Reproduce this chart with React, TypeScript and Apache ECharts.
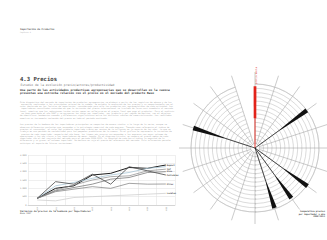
import { useEffect, useRef } from "react";
import * as echarts from "echarts";

// ---- Line chart data (price index per importer, base 1997) ----
const years = ["2004", "2005", "2006", "2007", "2008", "2009", "2010", "2011"];
const importerNames = ["Repsol", "Shell", "Ypf", "Esso", "Petrobras", "Otros", "Locales"];
const importerA = [400, 1000, 1150, 1800, 1900, 2250, 2200, 2400];
const importerB = [400, 1150, 1350, 1600, 1800, 1950, 2200, 2300];
const importerC = [400, 900, 1200, 1500, 1700, 1750, 2050, 2150];
const importerD = [400, 850, 1050, 1250, 1550, 1650, 1950, 2000];
const importerE = [400, 1400, 1250, 1850, 1250, 2300, 2050, 1800];
const importerF = [400, 800, 950, 1100, 1000, 1300, 1250, 1260];
const importerG = [300, 250, 450, 500, 550, 600, 650, 700];
const importerSeries = [importerA, importerB, importerC, importerD, importerE, importerF, importerG];

// ---- Polar chart data ----
const sectors = [
  "Mercado", "S2", "S3", "Repsol", "S5", "S6", "S7", "Shell", "Ypf", "Esso",
  "S11", "S12", "S13", "S14", "S15", "S16", "Petrobras", "S18", "S19", "S20",
];
const barSector = [0, 3, 7, 8, 9, 16];
const barInner = [7.0, 7.0, 8.2, 8.0, 8.2, 7.5];
const barOuter = [14.5, 15.0, 15.2, 14.5, 14.8, 15.2];

const para0 =
  "Una parte de las actividades productivas agropecuarias que se desarrollan en la cuenca presentan una estrecha relación con el precio en el mercado del producto Base";
const para1 =
  "Este diagnóstico del mercado de importación de productos agropecuarios se elaboró a partir de los registros de aduana y de las encuestas realizadas a los principales actores de la cadena. Se estudia la evolución de los precios y su comportamiento con el valor declarado en las facturas de importación, considerando para ello los productos más representativos de cada actividad. Los importadores consultados coinciden en que la variación del precio internacional se traslada de forma casi inmediata al mercado local, mientras que las reducciones tardan varios meses en reflejarse en el precio final que paga el productor. Para el análisis se tomó como base el año 1997 y se agruparon los datos por importador, por producto y por región de destino, con el objetivo de identificar tendencias comunes y diferencias significativas entre los distintos canales de comercialización. Los resultados muestran un incremento sostenido del precio en todo el período analizado.";
const para2 =
  "Los precios de la bombona de los importadores principales se comportan de manera similar a lo largo de la serie, aunque se observan diferencias puntuales que responden a la estrategia comercial de cada empresa. Tomando como referencia el índice de precios al consumidor, el valor del producto importado creció por encima de la inflación en la mayoría de los años, lo que se tradujo en una pérdida de rentabilidad para los pequeños productores de la cuenca. En el gráfico se representa la variación de precios de cada importador respecto del año base; las líneas más oscuras corresponden a las empresas con mayor volumen de operaciones y las más claras a los importadores de menor tamaño. En el diagrama circular se compara el precio medio de cada importador con el del conjunto del mercado para el período 2008-2011: la longitud de cada barra indica la magnitud de la diferencia y su grosor el volumen importado. Se destaca en rojo el precio de referencia del mercado. Esta información permite anticipar el impacto de futuras variaciones.";

const MONO = "DejaVu Sans Mono";
const lineColors = ["#1e1e1e", "#a9c7d5", "#8a8a8a", "#6a6a6a", "#4a4a4a", "#7d7d7d", "#cfcfcf"];
const lineWidths = [1, 0.8, 0.7, 0.7, 0.8, 0.7, 0.8];

export default function App() {
  const ref = useRef<HTMLDivElement>(null);
  useEffect(() => {
    if (!ref.current) return;
    const chart = echarts.init(ref.current, undefined, { renderer: "svg" });
    const cx = 255, cy = 148;
    const option: any = {
      animation: false,
      grid: { left: 28, top: 155, width: 147, height: 50, containLabel: false },
      xAxis: {
        type: "category", data: years, boundaryGap: true,
        axisLine: { lineStyle: { color: "#bbb", width: 0.5 } },
        axisTick: { show: false },
        splitLine: { show: true, lineStyle: { color: "#dedede", width: 0.5 } },
        axisLabel: { fontSize: 1.8, rotate: 90, color: "#777", margin: 2, fontFamily: MONO },
      },
      yAxis: {
        type: "value", min: 0, max: 3000, interval: 500,
        axisLabel: { fontSize: 2.2, color: "#888", margin: 1.5, fontFamily: MONO,
          formatter: (v: number) => (v >= 1000 ? Math.floor(v / 1000) + "." + String(v % 1000).padStart(3, "0") : String(v)) },
        splitLine: { lineStyle: { color: "#dedede", width: 0.5 } },
        axisLine: { show: false }, axisTick: { show: false },
      },
      polar: [
        { center: [cx, cy], radius: 76 },
        { center: [cx, cy], radius: 64 },
        { center: [cx, cy], radius: 64 },
      ],
      angleAxis: [
        { polarIndex: 0, type: "category", data: sectors, boundaryGap: false, startAngle: 90,
          axisLine: { show: false }, axisTick: { show: false }, axisLabel: { show: false },
          splitLine: { show: true, lineStyle: { color: "#a0a0a0", width: 0.55 } } },
        { polarIndex: 1, type: "category", data: sectors, boundaryGap: false, startAngle: 90,
          axisLine: { show: true, lineStyle: { color: "#bdbdbd", width: 0.55 } },
          axisTick: { show: false }, axisLabel: { show: false }, splitLine: { show: false } },
        { polarIndex: 2, type: "value", startAngle: 270, show: false },
      ],
      radiusAxis: [
        { polarIndex: 0, type: "value", min: 0, max: 1, show: false },
        { polarIndex: 1, type: "value", min: 0, max: 15, interval: 1,
          axisLine: { show: false }, axisTick: { show: false }, axisLabel: { show: false },
          splitLine: { show: true, lineStyle: { color: "#bdbdbd", width: 0.55 } } },
        { polarIndex: 2, type: "value", min: 0, max: 15, interval: 1,
          axisLine: { show: false }, axisLabel: { show: false }, splitLine: { show: false },
          axisTick: { show: true, length: 1.2, lineStyle: { color: "#888", width: 0.4 } } },
      ],
      series: [
        ...importerSeries.map((data, i) => ({
          type: "line", name: importerNames[i], data, symbol: "none",
          lineStyle: { color: lineColors[i], width: lineWidths[i] },
          endLabel: { show: i !== 1, formatter: "{a}", fontSize: 2.2, fontWeight: "bold",
            color: "#444", distance: 1, fontFamily: MONO },
          z: 3,
        })),
        {
          type: "custom", coordinateSystem: "polar", polarIndex: 1, z: 10,
          data: barSector.map((s, i) => [barOuter[i], s, barInner[i]]),
          renderItem: (params: any, api: any) => {
            const rout = api.value(0);
            const idx = api.value(1);
            const rin = api.value(2);
            const c = api.coord([0, idx]);
            const pin = api.coord([rin, idx]);
            const pout = api.coord([rout, idx]);
            const dx = pout[0] - c[0], dy = pout[1] - c[1];
            const len = Math.sqrt(dx * dx + dy * dy) || 1;
            const nx = -dy / len, ny = dx / len;
            const isRef = idx === 0;
            const color = isRef ? "#e2231a" : "#111";
            const wIn = isRef ? 2.6 : 0.6;
            const wOut = isRef ? 2.8 : 4.6;
            return {
              type: "group",
              children: [
                { type: "line", shape: { x1: c[0], y1: c[1], x2: pin[0], y2: pin[1] },
                  style: { stroke: color, lineWidth: isRef ? 0.9 : 0.7 } },
                { type: "polygon", shape: { points: [
                  [pin[0] + nx * wIn / 2, pin[1] + ny * wIn / 2],
                  [pout[0] + nx * wOut / 2, pout[1] + ny * wOut / 2],
                  [pout[0] - nx * wOut / 2, pout[1] - ny * wOut / 2],
                  [pin[0] - nx * wIn / 2, pin[1] - ny * wIn / 2],
                ] }, style: { fill: color } },
              ],
            };
          },
        },
      ],
      graphic: [
        { type: "circle", z: 5, shape: { cx, cy, r: 4.3 }, style: { fill: "#fff", stroke: "#bdbdbd", lineWidth: 0.5 } },
        { type: "text", z: 20, x: cx + 0.9, y: 84, rotation: Math.PI / 2,
          style: { text: "precio medio", fontSize: 2.4, fill: "#e2231a", fontFamily: MONO, align: "left", verticalAlign: "middle" } },
        { type: "text", x: 20, y: 29.3, style: { text: "Importación de Productos", fontSize: 2.4, fontWeight: "bold", fill: "#555", fontFamily: MONO, verticalAlign: "middle" } },
        { type: "text", x: 20, y: 31.8, style: { text: "Capítulo 4", fontSize: 1.8, fill: "#aaa", fontFamily: MONO, verticalAlign: "middle" } },
        { type: "text", x: 20, y: 79, style: { text: "4.3 Precios", fontSize: 5.6, fontWeight: "bold", fill: "#3c3c3c", fontFamily: MONO, verticalAlign: "middle" } },
        { type: "text", x: 20.5, y: 84.5, style: { text: "Estudio de la evolución precio/actores/productividad", fontSize: 3, fill: "#777", fontFamily: MONO, verticalAlign: "middle" } },
        { type: "text", x: 20, y: 87.8, style: { text: para0, fontSize: 2.9, lineHeight: 3.5, fontWeight: "bold", fill: "#333", fontFamily: MONO, width: 156, overflow: "break", verticalAlign: "top" } },
        { type: "text", x: 20, y: 100.5, style: { text: para1, fontSize: 2, lineHeight: 2.33, fill: "#a6a6a6", fontFamily: MONO, width: 155, overflow: "break", verticalAlign: "top" } },
        { type: "text", x: 20, y: 123.2, style: { text: para2, fontSize: 2, lineHeight: 2.33, fill: "#a6a6a6", fontFamily: MONO, width: 155, overflow: "break", verticalAlign: "top" } },
        { type: "text", x: 20, y: 211, style: { text: "Variación de precios de la bombona por importadores", fontSize: 2.3, fontWeight: "bold", fill: "#444", fontFamily: MONO, verticalAlign: "middle" } },
        { type: "text", x: 20, y: 213.7, style: { text: "Base 1997", fontSize: 2.1, fill: "#555", fontFamily: MONO, verticalAlign: "middle" } },
        { type: "text", x: 325, y: 210, style: { text: "Comparativa precios\npor importador y año\n2008-2011", fontSize: 2.2, lineHeight: 2.6, fontWeight: "bold", fill: "#444", fontFamily: MONO, align: "right", verticalAlign: "top" } },
      ],
    };
    chart.setOption(option);
    return () => chart.dispose();
  }, []);
  return (
    <div
      ref={ref}
      style={{ position: "absolute", left: 0, top: 0, width: 327, height: 240, background: "#fff" }}
    />
  );
}
